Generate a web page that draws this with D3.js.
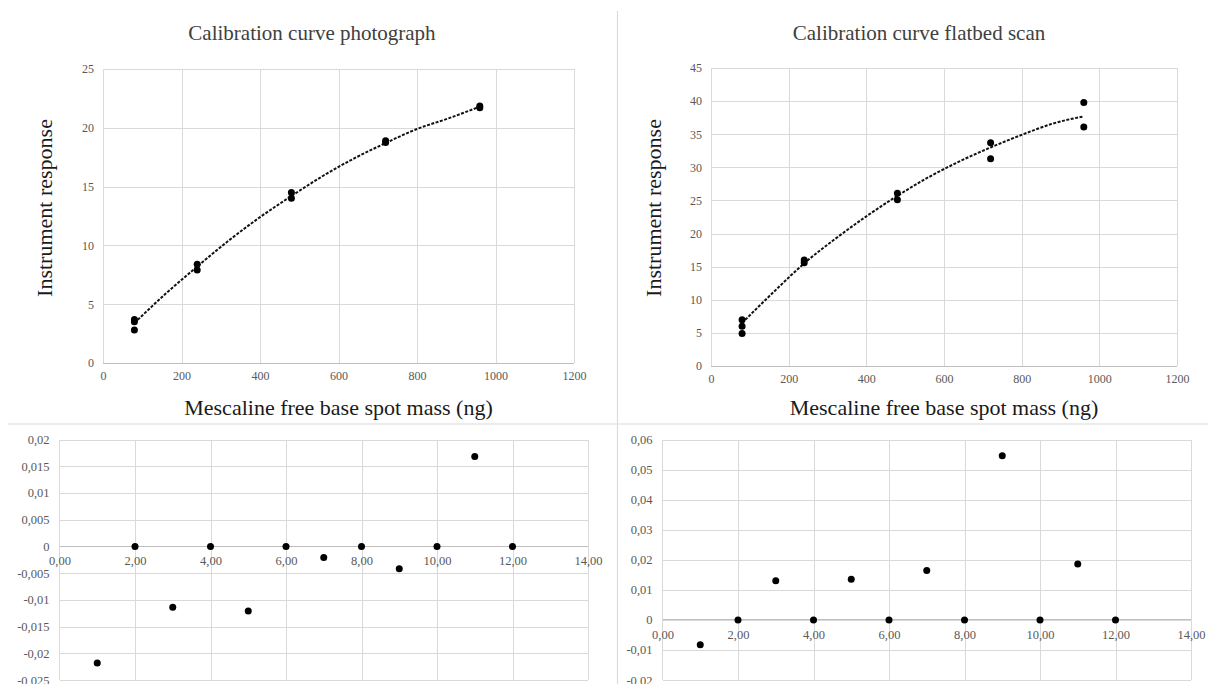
<!DOCTYPE html>
<html><head><meta charset="utf-8">
<script src="https://cdn.jsdelivr.net/npm/d3@7"></script>
<style>
body{margin:0;background:#fff}
svg{display:block}
text{font-family:"Liberation Serif","Times New Roman",serif}
</style>
</head><body>
<svg id="c" width="1208" height="684"></svg>
<script>
// ---------- DATA ----------
const photoMass     = [80, 80, 80, 240, 240, 480, 480, 720, 720, 960, 960];
const photoResponse = [3.7, 3.5, 2.8, 8.4, 7.9, 14.5, 14.0, 18.9, 18.75, 21.85, 21.7];
const flatMass      = [80, 80, 80, 240, 240, 480, 480, 720, 720, 960, 960];
const flatResponse  = [7.0, 6.0, 4.9, 16.0, 15.6, 26.1, 25.1, 33.7, 31.3, 39.8, 36.1];

const trendMass  = [80, 160, 240, 320, 400, 480, 560, 640, 720, 800, 880, 960];
const photoTrend = [3.4, 5.9, 8.2, 10.4, 12.4, 14.2, 15.9, 17.4, 18.7, 19.9, 20.8, 21.8];
const flatTrend  = [6.5, 11.1, 15.5, 19.2, 22.6, 25.7, 28.5, 30.9, 33.0, 34.9, 36.6, 37.7];

const residualIndex = [1, 2, 3, 4, 5, 6, 7, 8, 9, 10, 11, 12];
const photoResidual = [-0.0218, 0, -0.0114, 0, -0.0121, 0, -0.0021, 0, -0.0042, 0, 0.0168, 0];
const flatResidual  = [-0.0083, 0, 0.0130, 0, 0.0135, 0, 0.0164, 0, 0.0546, 0, 0.0186, 0];

const massTicks = [0, 200, 400, 600, 800, 1000, 1200];
const photoTicks = [0, 5, 10, 15, 20, 25];
const flatTicks = [0, 5, 10, 15, 20, 25, 30, 35, 40, 45];
const indexTicks = [0, 2, 4, 6, 8, 10, 12, 14];
const photoResTicks = [-0.025, -0.02, -0.015, -0.01, -0.005, 0, 0.005, 0.01, 0.015, 0.02];
const flatResTicks = [-0.02, -0.01, 0, 0.01, 0.02, 0.03, 0.04, 0.05, 0.06];

const titles = ["Calibration curve photograph", "Calibration curve flatbed scan"];
const yTitle = "Instrument response";
const xTitle = "Mescaline free base spot mass (ng)";

// ---------- DRAW ----------
const svg = d3.select("#c");
const GRID = "#d9d9d9", LABEL = "#595959";
const SERIF = '"Liberation Serif","Times New Roman",serif';
const comma = s => s.replace(".", ",");

// separators
svg.append("line").attr("x1", 617.5).attr("x2", 617.5).attr("y1", 11).attr("y2", 684)
  .attr("stroke", "#dcdcdc").attr("stroke-width", 1.2);
svg.append("line").attr("x1", 8).attr("x2", 1208).attr("y1", 424).attr("y2", 424)
  .attr("stroke", "#e6e6e6").attr("stroke-width", 1.5);

function gridAxes(g, x, y, xt, yt) {
  const [x0, x1] = x.range(), [y0, y1] = y.range();
  g.append("g").call(d3.axisLeft(y).tickValues(yt).tickSize(-(x1 - x0)).tickFormat(""))
    .attr("transform", `translate(${x0},0)`)
    .call(s => s.select(".domain").remove())
    .call(s => s.selectAll("line").attr("stroke", GRID).attr("shape-rendering", "crispEdges"));
  g.append("g").call(d3.axisBottom(x).tickValues(xt.filter(v => v !== 0)).tickSize(-(y0 - y1)).tickFormat(""))
    .attr("transform", `translate(0,${y0})`)
    .call(s => s.select(".domain").remove())
    .call(s => s.selectAll("line").attr("stroke", GRID).attr("shape-rendering", "crispEdges"));
  g.append("line").attr("x1", x0).attr("x2", x0).attr("y1", y0).attr("y2", y1)
    .attr("stroke", GRID).attr("shape-rendering", "crispEdges");
  g.append("line").attr("x1", x0).attr("x2", x1).attr("y1", y(0)).attr("y2", y(0))
    .attr("stroke", "#bfbfbf").attr("shape-rendering", "crispEdges");
}

function styleLabels(s, size) {
  s.attr("font-family", SERIF);
  s.select(".domain").remove();
  s.selectAll("text").attr("fill", LABEL).attr("font-size", size).style("font-family", SERIF);
}

function calib(opts) {
  const g = svg.append("g");
  const x = d3.scaleLinear().domain([0, 1200]).range(opts.xr);
  const y = d3.scaleLinear().domain(opts.yd).range(opts.yr);
  gridAxes(g, x, y, massTicks, opts.yt);
  g.append("g").attr("transform", `translate(${opts.xr[0] - 9},0)`)
    .call(d3.axisLeft(y).tickValues(opts.yt).tickSize(0).tickPadding(0).tickFormat(d3.format("d")))
    .call(s => styleLabels(s, 12));
  g.append("g").attr("transform", `translate(0,${opts.yr[0] + 8})`)
    .call(d3.axisBottom(x).tickValues(massTicks).tickSize(0).tickPadding(0).tickFormat(d3.format("d")))
    .call(s => styleLabels(s, 12));
  const line = d3.line().x((d, i) => x(trendMass[i])).y(d => y(d)).curve(d3.curveMonotoneX);
  g.append("path").datum(opts.trend).attr("d", line).attr("fill", "none")
    .attr("stroke", "#111").attr("stroke-width", 2).attr("stroke-dasharray", "3,1.5");
  g.selectAll("circle.p").data(opts.resp).join("circle").attr("class", "p")
    .attr("cx", (d, i) => x(opts.mass[i])).attr("cy", d => y(d)).attr("r", 3.5).attr("fill", "#000");
  g.append("text").attr("x", opts.titleX).attr("y", 40).attr("text-anchor", "middle")
    .attr("font-size", 21).attr("fill", "#404040").text(opts.title);
  g.append("text").attr("transform", `translate(${opts.yTitleX},208) rotate(-90)`)
    .attr("text-anchor", "middle").attr("dy", "0.35em").attr("font-size", 22).attr("fill", "#1a1a1a").text(yTitle);
  g.append("text").attr("x", (opts.xr[0] + opts.xr[1]) / 2).attr("y", 415).attr("text-anchor", "middle")
    .attr("font-size", 22).attr("fill", "#1a1a1a").text(xTitle);
}

calib({xr: [103, 574], yr: [363, 69], yd: [0, 25], yt: photoTicks, mass: photoMass, resp: photoResponse,
  trend: photoTrend, title: titles[0], titleX: 312, yTitleX: 44});
calib({xr: [711, 1177], yr: [366, 68], yd: [0, 45], yt: flatTicks, mass: flatMass, resp: flatResponse,
  trend: flatTrend, title: titles[1], titleX: 919, yTitleX: 653});

function resid(opts) {
  const g = svg.append("g");
  const x = d3.scaleLinear().domain([0, 14]).range(opts.xr);
  const y = d3.scaleLinear().domain(opts.yd).range(opts.yr);
  gridAxes(g, x, y, indexTicks, opts.yt);
  g.append("g").attr("transform", `translate(${opts.xr[0] - 10},0)`)
    .call(d3.axisLeft(y).tickValues(opts.yt).tickSize(0).tickPadding(0).tickFormat(d => comma(String(+d.toFixed(4)))))
    .call(s => styleLabels(s, 12.5));
  g.append("g").attr("transform", `translate(0,${y(0) + 10})`)
    .call(d3.axisBottom(x).tickValues(indexTicks).tickSize(0).tickPadding(0).tickFormat(d => comma(d.toFixed(2))))
    .call(s => styleLabels(s, 12.5));
  g.selectAll("circle.r").data(opts.vals).join("circle").attr("class", "r")
    .attr("cx", (d, i) => x(residualIndex[i])).attr("cy", d => y(d)).attr("r", 3.5).attr("fill", "#000");
}

resid({xr: [59.5, 588], yr: [680, 439.5], yd: [-0.025, 0.02], yt: photoResTicks, vals: photoResidual});
resid({xr: [662.5, 1191], yr: [680, 439.5], yd: [-0.02, 0.06], yt: flatResTicks, vals: flatResidual});
</script>
</body></html>
